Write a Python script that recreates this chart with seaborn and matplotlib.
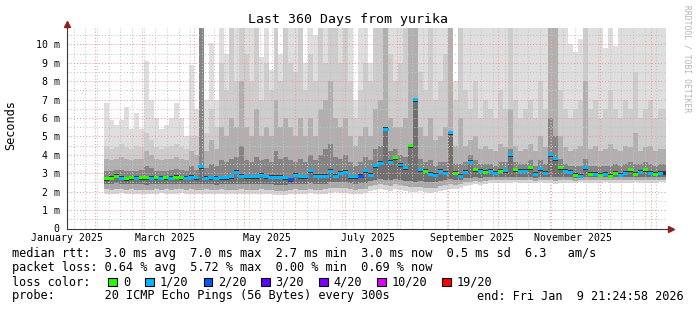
import numpy as np
import pandas as pd
import matplotlib
matplotlib.use("Agg")
import matplotlib.pyplot as plt
import matplotlib.dates as mdates
import matplotlib.transforms as mtransforms
from matplotlib.patches import Rectangle
from matplotlib.ticker import MultipleLocator, FixedLocator, NullFormatter
import seaborn as sns

# ------------------------------------------------------------------ data
title = "Last 360 Days from yurika"
y_label = "Seconds"
range_start = "2025-01-14 21:24:58"
range_end = "2026-01-09 21:24:58"
first_bin = "2025-02-06"
bin_days = 3

# median round-trip time per 3-day bin (ms)
median_ms = [
    2.70, 2.72, 2.85, 2.72, 2.70, 2.75, 2.72, 2.75, 2.75, 2.72, 2.75, 2.72, 2.75, 2.72, 2.78, 2.75, 2.72, 2.78,
    2.75, 3.35, 2.72, 2.75, 2.72, 2.75, 2.75, 2.80, 3.05, 2.85,
    2.80, 2.80, 2.82, 2.90, 2.80, 2.78, 2.78, 2.78, 2.75, 2.65,
    2.90, 2.80, 2.80, 3.15, 2.85, 2.85, 2.85, 3.10, 2.85, 3.00,
    3.05, 2.80, 2.80, 2.85, 3.15, 2.90, 3.40, 3.55, 5.40, 3.60,
    3.85, 3.45, 3.30, 4.50, 7.00, 3.20, 3.10, 2.95, 2.90, 3.10,
    3.00, 5.20, 3.00, 2.85, 3.05, 3.60, 3.20, 3.10, 3.05, 3.10,
    3.00, 3.10, 3.15, 4.00, 3.20, 3.10, 3.10, 3.30, 2.95, 3.25,
    3.00, 4.00, 3.80, 3.30, 3.10, 3.05, 2.90, 2.85, 3.30, 2.95,
    2.95, 2.90, 2.95, 2.85, 3.00, 2.90, 3.00, 3.20, 2.95, 3.05, 3.20, 3.00, 2.95, 3.00,
]

# lost pings out of 20 per bin
loss_count = [
    0, 0, 0, 1, 0, 0, 1, 0, 0, 1, 0, 1, 0, 1, 0, 0, 1, 1,
    1, 1, 1, 1, 1, 1, 1, 1, 1, 1,
    1, 1, 1, 1, 1, 1, 1, 1, 1, 2,
    1, 1, 1, 1, 1, 1, 1, 1, 1, 1,
    1, 1, 1, 2, 1, 1, 1, 1, 1, 1,
    0, 1, 1, 0, 1, 1, 0, 1, 1, 1,
    1, 1, 0, 1, 1, 1, 0, 1, 0, 1,
    1, 0, 1, 1, 0, 1, 1, 0, 1, 1,
    1, 1, 1, 0, 1, 1, 0, 1, 1, 0,
    1, 0, 1, 0, 0, 1, 1, 0, 0, 1, 0, 1, 0, 1,
]

# smoke: spread of the 20 pings per bin (ms)
smoke_max = [
    6.8, 5.9, 5.6, 5.9, 6.6, 5.4, 6.3, 5.4, 9.1, 7.0, 6.0, 5.4, 5.6, 6.0, 6.8, 6.0, 5.0, 8.9,
    6.5, 10.9, 7.0, 10.1, 7.0, 10.9, 9.5, 10.9, 10.9, 10.9, 10.9, 10.9, 10.9, 9.3, 10.9, 8.6,
    10.9, 9.5, 10.9, 10.9, 10.9, 10.9, 9.0, 10.9, 10.5, 10.9, 10.9, 10.9, 10.9, 10.9,
    10.9, 10.9, 7.0, 10.9, 10.9, 9.0, 10.9, 10.9, 10.9, 10.9, 10.9, 10.9, 10.9, 10.9, 10.9,
    10.9, 10.9, 10.9, 10.9, 10.9, 10.9, 10.9,
    8.0, 10.9, 10.9, 10.9, 10.9, 10.9, 10.9, 10.9, 10.9, 10.9, 10.9, 10.9, 10.9, 10.9, 10.9,
    10.9, 10.9, 10.9, 10.9, 10.9, 10.9, 10.9, 10.9, 10.0, 9.6, 10.3, 10.9, 10.9, 10.9, 10.9,
    9.8, 10.9, 9.9, 10.9, 10.9, 10.9, 10.9, 10.9, 10.9, 10.9, 10.9, 10.9,
]
smoke_p90 = [
    4.5, 4.3, 4.4, 4.6, 4.4, 4.3, 4.5, 4.4, 5.2, 4.8, 4.4, 4.3, 4.4, 4.5, 4.6, 4.4, 4.3, 5.0,
    5.0, 10.9, 5.2, 6.5, 5.5, 9.0, 7.5, 10.9, 8.0, 10.9, 9.5, 8.0, 10.9, 7.0, 9.0, 7.5,
    10.9, 8.0, 10.9, 9.0, 8.5, 10.9, 7.5, 9.5, 8.0, 10.9, 9.0, 10.9, 10.9, 9.0,
    10.9, 8.0, 6.0, 7.5, 9.0, 8.0, 10.9, 10.9, 10.9, 9.5, 8.0, 9.0, 10.9, 10.9, 10.9,
    8.5, 7.5, 10.9, 7.0, 8.0, 9.5, 10.9,
    7.0, 10.9, 7.5, 6.5, 8.0, 6.0, 7.0, 6.5, 6.0, 7.5, 6.5, 10.9, 7.0, 6.0, 6.5,
    7.0, 6.0, 8.0, 6.5, 10.9, 10.9, 7.5, 6.5, 6.0, 6.5, 7.0, 10.9, 6.5, 7.0, 6.0,
    6.5, 7.5, 6.5, 6.0, 7.0, 6.5, 8.5, 6.0, 6.5, 7.0, 6.0, 6.5,
]
smoke_p75 = [
    3.8, 3.7, 3.8, 3.9, 3.8, 3.7, 3.8, 3.8, 4.2, 4.0, 3.8, 3.7, 3.8, 3.8, 3.9, 3.8, 3.7, 4.2,
    4.0, 10.9, 4.2, 4.8, 4.3, 5.5, 5.0, 6.0, 5.5, 8.0, 5.5, 5.0, 6.5, 5.0, 5.5, 5.0,
    7.0, 5.5, 6.0, 5.5, 5.0, 6.0, 5.0, 6.0, 5.0, 6.5, 7.0, 8.0, 6.0, 5.5,
    6.0, 5.0, 4.5, 5.0, 5.5, 5.0, 6.5, 7.0, 10.9, 6.0, 5.5, 5.5, 6.0, 10.9, 10.9,
    5.5, 5.0, 6.0, 4.8, 5.0, 5.5, 10.9,
    4.5, 6.0, 4.5, 4.8, 5.0, 4.3, 4.5, 4.3, 4.2, 4.6, 4.4, 6.5, 4.5, 4.2, 4.3,
    4.6, 4.2, 5.0, 4.4, 10.9, 10.9, 5.0, 4.4, 4.2, 4.3, 4.5, 8.0, 4.3, 4.5, 4.2,
    4.3, 4.6, 4.3, 4.2, 4.5, 4.4, 5.2, 4.2, 4.4, 4.5, 4.2, 4.3,
]
smoke_p60 = [
    3.15, 3.1, 3.2, 3.2, 3.1, 3.1, 3.15, 3.2, 3.4, 3.3, 3.15, 3.1, 3.15, 3.2, 3.25, 3.2, 3.1, 3.4,
    3.2, 10.9, 3.3, 3.5, 3.4, 3.7, 3.6, 3.8, 3.9, 4.5, 3.7, 3.6, 3.9, 3.7, 3.8, 3.6,
    4.2, 3.8, 3.9, 3.7, 3.6, 3.8, 3.6, 4.0, 3.7, 4.0, 4.3, 4.6, 3.9, 3.8,
    4.0, 3.6, 3.4, 3.6, 3.9, 3.7, 4.3, 4.5, 5.4, 4.2, 4.3, 4.0, 3.9, 4.5, 7.0,
    3.8, 3.6, 3.7, 3.4, 3.6, 3.6, 5.2,
    3.5, 3.5, 3.6, 4.0, 3.7, 3.5, 3.5, 3.5, 3.4, 3.6, 3.6, 4.3, 3.6, 3.5, 3.5,
    3.7, 3.4, 3.7, 3.5, 6.0, 5.0, 3.8, 3.5, 3.4, 3.4, 3.4, 3.8, 3.4, 3.4, 3.4,
    3.4, 3.4, 3.5, 3.4, 3.5, 3.6, 3.5, 3.5, 3.6, 3.5, 3.4, 3.5,
]
smoke_p25 = [
    2.42, 2.40, 2.45, 2.42, 2.40, 2.42, 2.40, 2.42, 2.38, 2.40, 2.42, 2.40, 2.42, 2.40, 2.44, 2.44, 2.40, 2.42,
    2.40, 2.42, 2.42, 2.40, 2.38, 2.42, 2.40, 2.40, 2.42, 2.42, 2.42, 2.40, 2.40, 2.44, 2.42, 2.40,
    2.38, 2.35, 2.38, 2.42, 2.44, 2.40, 2.42, 2.46, 2.42, 2.40, 2.44, 2.50, 2.52, 2.50,
    2.50, 2.45, 2.42, 2.45, 2.48, 2.60, 2.65, 2.70, 2.65, 2.62, 2.70, 2.65, 2.60, 2.58, 2.55,
    2.58, 2.52, 2.50, 2.55, 2.60, 2.65, 2.70,
    2.65, 2.65, 2.72, 2.75, 2.78, 2.75, 2.78, 2.80, 2.78, 2.80, 2.78, 2.80, 2.82, 2.78, 2.80,
    2.80, 2.75, 2.82, 2.78, 2.78, 2.78, 2.80, 2.82, 2.80, 2.75, 2.78, 2.80, 2.78, 2.78, 2.78,
    2.80, 2.76, 2.80, 2.78, 2.80, 2.80, 2.78, 2.80, 2.82, 2.80, 2.78, 2.80,
]
smoke_p10 = [
    2.12, 2.10, 2.15, 2.12, 2.10, 2.12, 2.10, 2.10, 2.08, 2.10, 2.12, 2.10, 2.12, 2.10, 2.12, 2.14, 2.10, 2.12,
    2.10, 2.10, 2.12, 2.10, 2.08, 2.12, 2.10, 2.08, 2.10, 2.12, 2.10, 2.08, 2.08, 2.12, 2.10, 2.08,
    2.05, 2.02, 2.05, 2.10, 2.12, 2.08, 2.10, 2.14, 2.10, 2.08, 2.12, 2.18, 2.22, 2.18,
    2.18, 2.12, 2.10, 2.12, 2.15, 2.30, 2.35, 2.40, 2.35, 2.30, 2.40, 2.35, 2.30, 2.28, 2.25,
    2.28, 2.22, 2.20, 2.22, 2.30, 2.35, 2.40,
    2.38, 2.42, 2.50, 2.55, 2.60, 2.55, 2.60, 2.62, 2.62, 2.65, 2.62, 2.62, 2.65, 2.62, 2.65,
    2.62, 2.60, 2.66, 2.62, 2.62, 2.60, 2.62, 2.65, 2.62, 2.60, 2.66, 2.62, 2.65, 2.62, 2.62,
    2.66, 2.62, 2.62, 2.65, 2.62, 2.62, 2.66, 2.62, 2.65, 2.62, 2.62, 2.65,
]
smoke_min = [
    1.90, 1.88, 1.90, 1.92, 1.88, 1.90, 1.90, 1.87, 1.85, 1.88, 1.90, 1.92, 1.90, 1.88, 1.90, 1.92, 1.90, 1.88,
    1.88, 1.85, 1.90, 1.88, 1.86, 1.90, 1.88, 1.85, 1.87, 1.90, 1.88, 1.86, 1.85, 1.90, 1.88, 1.86,
    1.82, 1.80, 1.84, 1.88, 1.90, 1.86, 1.88, 1.92, 1.88, 1.85, 1.90, 1.95, 2.00, 1.95,
    1.95, 1.90, 1.88, 1.90, 1.92, 2.05, 2.10, 2.15, 2.10, 2.05, 2.15, 2.10, 2.05, 2.00, 2.00,
    2.02, 1.98, 1.95, 1.98, 2.05, 2.10, 2.15,
    2.15, 2.20, 2.30, 2.35, 2.40, 2.38, 2.42, 2.45, 2.45, 2.48, 2.45, 2.45, 2.50, 2.45, 2.48,
    2.45, 2.45, 2.50, 2.45, 2.45, 2.40, 2.45, 2.48, 2.45, 2.45, 2.50, 2.45, 2.48, 2.45, 2.45,
    2.50, 2.45, 2.45, 2.48, 2.45, 2.45, 2.50, 2.45, 2.48, 2.45, 2.45, 2.50,
]

y_ticks = [0, 1, 2, 3, 4, 5, 6, 7, 8, 9, 10]
y_tick_labels = ["0", "1 m", "2 m", "3 m", "4 m", "5 m", "6 m", "7 m", "8 m", "9 m", "10 m"]
month_labels = ["January 2025", "March 2025", "May 2025", "July 2025",
                "September 2025", "November 2025"]
month_label_dates = ["2025-01-15", "2025-03-15", "2025-05-15", "2025-07-15",
                     "2025-09-15", "2025-11-15"]

loss_levels = [0, 1, 2, 3, 4, 10, 19]
loss_labels = ["0", "1/20", "2/20", "3/20", "4/20", "10/20", "19/20"]
loss_colors = ["#26ff00", "#00b8ff", "#0059ff", "#5e00ff", "#7e00ff", "#dd00ff", "#ff0000"]

stat_rtt = "median rtt:  3.0 ms avg  7.0 ms max  2.7 ms min  3.0 ms now  0.5 ms sd  6.3   am/s"
stat_loss = "packet loss: 0.64 % avg  5.72 % max  0.00 % min  0.69 % now"
loss_title = "loss color:"
probe_text = "probe:       20 ICMP Echo Pings (56 Bytes) every 300s"
end_text = "end: Fri Jan  9 21:24:58 2026"
credit = "RRDTOOL / TOBI OETIKER"

# ------------------------------------------------------------------ style
sns.set_theme(style="white", rc={"text.color": "black", "axes.labelcolor": "black",
                                 "xtick.color": "black", "ytick.color": "black"})
plt.rcParams["font.family"] = ["DejaVu Sans Mono", "DejaVu Sans"]

W, H = 697, 310
fig = plt.figure(figsize=(W / 100, H / 100), dpi=100)
fig.patch.set_facecolor("white")
ax_left, ax_right, ax_top, ax_bottom = 67, 666, 28, 228.5
ax = fig.add_axes([ax_left / W, (H - ax_bottom) / H,
                   (ax_right - ax_left) / W, (ax_bottom - ax_top) / H])
ax.set_facecolor("white")

# ------------------------------------------------------------------ smoke
starts = pd.date_range(first_bin, periods=len(median_ms), freq=f"{bin_days}D")
x0 = mdates.date2num(starts.to_pydatetime())
t_start = mdates.date2num(pd.Timestamp(range_start).to_pydatetime())
t_end = mdates.date2num(pd.Timestamp(range_end).to_pydatetime())
xs = np.append(x0, t_end)
med = np.asarray(median_ms, float)
med_ext = np.append(med, med[-1])


def ext(v):
    v = np.asarray(v, float)
    return np.append(v, v[-1])


upper = [(smoke_max, "#dedede"), (smoke_p90, "#cdcdcd"),
         (smoke_p75, "#b0b0b0"), (smoke_p60, "#858585")]
for vals, col in upper:
    ax.fill_between(xs, med_ext, ext(vals), step="post", color=col, lw=0, zorder=1)
lower = [(smoke_min, "#d6d6d6"), (smoke_p10, "#a8a8a8"), (smoke_p25, "#707070")]
for vals, col in lower:
    ax.fill_between(xs, ext(vals), med_ext, step="post", color=col, lw=0, zorder=1)

# dark core around the median
ax.hlines(med, x0, xs[1:], color="#333333", lw=2.8, zorder=3)

# median coloured by loss
df = pd.DataFrame({
    "t": x0 + bin_days / 2,
    "median": med,
    "loss": [loss_labels[loss_levels.index(v)] for v in loss_count],
})
palette = dict(zip(loss_labels, loss_colors))
rect = [(-1, -0.55), (1, -0.55), (1, 0.55), (-1, 0.55), (-1, -0.55)]
sns.scatterplot(data=df, x="t", y="median", hue="loss", palette=palette,
                marker=rect, s=15, linewidth=0, legend=False, ax=ax, zorder=4)

# ------------------------------------------------------------------ axes & grid
ax.set_xlim(t_start, t_end)
ax.set_ylim(0, 10.89)
ax.set_xlabel("")
ax.set_ylabel("")
ax.xaxis.set_major_locator(mdates.MonthLocator())
ax.xaxis.set_minor_locator(mdates.WeekdayLocator(byweekday=mdates.SU))
ax.xaxis.set_major_formatter(NullFormatter())
ax.xaxis.set_minor_formatter(NullFormatter())
ax.yaxis.set_major_locator(FixedLocator(y_ticks))
ax.yaxis.set_minor_locator(MultipleLocator(0.5))
ax.set_yticklabels(y_tick_labels)
ax.set_axisbelow(False)
ax.grid(which="major", axis="both", color="#f29a9a", linestyle=(0, (1, 2)), linewidth=0.75)
ax.grid(which="minor", axis="both", color="#c4c4c4", linestyle=(0, (1, 2)), linewidth=0.75)
ax.tick_params(axis="both", which="major", length=2, width=0.7, color="#404040",
               direction="out", labelsize=7.1, pad=3.4)
ax.tick_params(axis="both", which="minor", length=0)
for s in ["top", "right"]:
    ax.spines[s].set_visible(False)
for s in ["left", "bottom"]:
    ax.spines[s].set_color("#3a3a3a")
    ax.spines[s].set_linewidth(0.8)
    ax.spines[s].set_zorder(5)

# month labels
tr = mtransforms.blended_transform_factory(ax.transData, ax.transAxes)
for lab, d in zip(month_labels, month_label_dates):
    ax.text(mdates.date2num(pd.Timestamp(d).to_pydatetime()), -9.5 / (ax_bottom - ax_top),
            lab, transform=tr, ha="center", va="center", fontsize=7.1)

# axis arrows
arrow_col = "#8b2222"
ax.plot([0, 0], [1, (ax_bottom - 22) / (ax_bottom - ax_top)], transform=ax.transAxes,
        color="#3a3a3a", lw=0.8, clip_on=False, zorder=5)
ax.plot([0], [(ax_bottom - 23.5) / (ax_bottom - ax_top)], transform=ax.transAxes,
        marker="^", ms=4.5, color=arrow_col, clip_on=False, zorder=6)
ax.plot([1, (669 - ax_left) / (ax_right - ax_left)], [0, 0], transform=ax.transAxes,
        color="#3a3a3a", lw=0.8, clip_on=False, zorder=5)
ax.plot([(670.5 - ax_left) / (ax_right - ax_left)], [0], transform=ax.transAxes,
        marker=">", ms=4.5, color=arrow_col, clip_on=False, zorder=6)

# ------------------------------------------------------------------ texts
fig.text(347.5 / W, 1 - 19 / H, title, ha="center", va="center", fontsize=9.5)
fig.text(11 / W, 1 - 125 / H, y_label, rotation=90, ha="center", va="center", fontsize=8.6)
fig.text(687 / W, 1 - 58.5 / H, credit, rotation=270, ha="center", va="center",
         fontsize=5.8, color="#b4b4b4")

fs = 8.6
row_y = [254, 268, 282, 296]
fig.text(12 / W, 1 - row_y[0] / H, stat_rtt, ha="left", va="center", fontsize=fs)
fig.text(12 / W, 1 - row_y[1] / H, stat_loss, ha="left", va="center", fontsize=fs)
fig.text(12 / W, 1 - row_y[2] / H, loss_title, ha="left", va="center", fontsize=fs)
fig.text(12 / W, 1 - row_y[3] / H, probe_text, ha="left", va="center", fontsize=fs)
fig.text(684 / W, 1 - row_y[3] / H, end_text, ha="right", va="center", fontsize=fs)

box_x = [108, 145, 203.5, 261, 319, 377, 442]
lab_x = [123.5, 160, 218, 275.5, 333, 392, 457]
bsz = 8.5
for bx, lx, lab, col in zip(box_x, lab_x, loss_labels, loss_colors):
    fig.add_artist(Rectangle((bx / W, (H - row_y[2] - bsz / 2) / H), bsz / W, bsz / H,
                             transform=fig.transFigure, facecolor=col,
                             edgecolor="black", linewidth=0.8))
    fig.text(lx / W, 1 - row_y[2] / H, lab, ha="left", va="center", fontsize=fs)

fig.savefig("out.png", dpi=100, facecolor="white")
